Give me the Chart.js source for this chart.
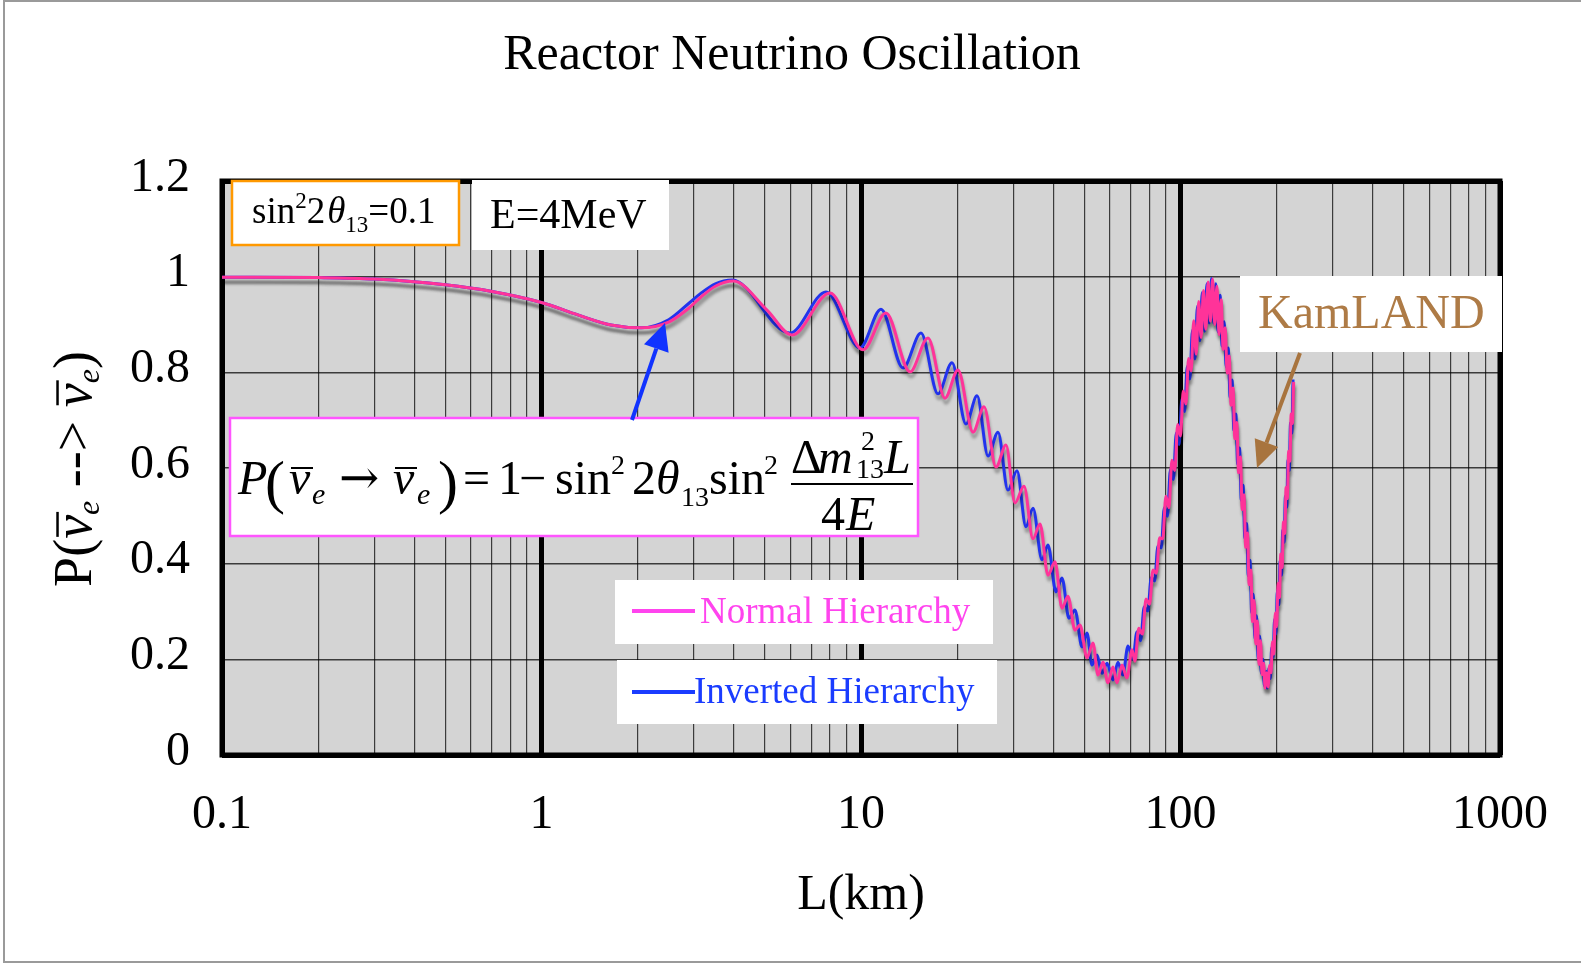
<!DOCTYPE html>
<html>
<head>
<meta charset="utf-8">
<title>Reactor Neutrino Oscillation</title>
<script src="https://cdn.jsdelivr.net/npm/chart.js@4.4.0/dist/chart.umd.min.js"></script>
<style>
  html, body { margin: 0; padding: 0; background: #fff; }
  canvas { display: block; }
</style>
</head>
<body>
<canvas id="oscChart" width="1581" height="963"></canvas>
<script>
const SERIF = "'Liberation Serif', 'Times New Roman', serif";

// baseline L (km) and survival probability, normal hierarchy
const normalL = [
    0.1, 0.2, 0.3, 0.5, 0.7, 1.0, 1.3, 1.65, 2.05, 2.5, 2.9, 3.15, 3.5, 3.98,
    5.08, 6.08, 8.0, 10.15, 11.97, 14.24, 16.21, 18.32, 20.12, 22.42, 24.27,
    26.46, 28.43, 30.34, 32.37, 34.54, 36.33, 38.48, 40.47, 42.57, 44.45, 46.75,
    48.46, 50.98, 53.22, 55.17, 57.19, 59.29, 61.47, 63.27, 65.6, 68.0, 70.51,
    72, 74, 76, 78, 80, 82, 84, 86, 88, 90, 92, 94, 96, 98, 100, 102, 104, 106,
    108, 110, 112, 114, 116, 118, 120, 122, 124, 126, 128, 130, 132, 134, 136,
    138, 140, 142, 144, 146, 148, 150, 152, 154, 156, 158, 160, 162, 164, 166,
    168, 170, 172, 174, 176, 178, 180, 182, 184, 186, 188, 190, 192, 194, 196,
    198, 200, 202, 204, 206, 208, 210, 212, 214, 216, 218, 220, 222, 224, 226
];
const normalP = [
    0.999, 0.998, 0.995, 0.983, 0.969, 0.946, 0.920, 0.899, 0.893, 0.905, 0.935, 0.957, 0.980, 0.991,
    0.930, 0.878, 0.966, 0.847, 0.924, 0.801, 0.872, 0.746, 0.805, 0.675, 0.728,
    0.602, 0.648, 0.527, 0.562, 0.452, 0.483, 0.376, 0.404, 0.307, 0.332, 0.261,
    0.272, 0.203, 0.234, 0.167, 0.194, 0.151, 0.184, 0.151, 0.188, 0.161, 0.220,
    0.196, 0.265, 0.253, 0.326, 0.315, 0.387, 0.380, 0.454, 0.452, 0.541, 0.517, 0.616, 0.595, 0.691, 0.667, 0.761, 0.734, 0.829,
    0.803, 0.908, 0.838, 0.948, 0.873, 0.971, 0.890, 0.989, 0.907, 0.995, 0.900, 0.980, 0.879, 0.952, 0.848,
    0.893, 0.798, 0.834, 0.731, 0.767, 0.661, 0.695, 0.590, 0.623, 0.513, 0.544, 0.434, 0.464, 0.356, 0.387,
    0.279, 0.323, 0.232, 0.280, 0.189, 0.239, 0.168, 0.192, 0.140, 0.172, 0.142, 0.187, 0.172, 0.237, 0.211,
    0.297, 0.268, 0.359, 0.329, 0.420, 0.392, 0.487, 0.463, 0.559, 0.536, 0.635, 0.614, 0.713, 0.693, 0.780
];

// baseline L (km) and survival probability, inverted hierarchy
const invertedL = [
    0.1, 0.2, 0.3, 0.5, 0.7, 1.0, 1.3, 1.65, 2.05, 2.5, 2.9, 3.15, 3.5, 3.95,
    5.99, 7.77, 9.93, 11.55, 13.54, 15.41, 17.42, 19.27, 21.31, 23.08, 24.98,
    26.84, 28.84, 30.78, 32.84, 34.54, 36.86, 38.48, 40.76, 42.57, 44.77, 46.75,
    49.18, 50.98, 52.84, 54.8, 56.79, 58.88, 61.5, 63.7, 66.0, 68.5,
    71, 73, 75, 77, 79, 81, 83, 85, 87, 89, 91, 93, 95, 97, 99, 101, 103, 105,
    107, 109, 111, 113, 115, 117, 119, 121, 123, 125, 127, 129, 131, 133, 135,
    137, 139, 141, 143, 145, 147, 149, 151, 153, 155, 157, 159, 161, 163, 165,
    167, 169, 171, 173, 175, 177, 179, 181, 183, 185, 187, 189, 191, 193, 195,
    197, 199, 201, 203, 205, 207, 209, 211, 213, 215, 217, 219, 221, 223, 225
];
const invertedP = [
    0.999, 0.998, 0.995, 0.983, 0.969, 0.946, 0.920, 0.899, 0.893, 0.910, 0.945, 0.965, 0.985, 0.993,
    0.882, 0.968, 0.851, 0.932, 0.809, 0.882, 0.755, 0.820, 0.692, 0.751, 0.625,
    0.675, 0.554, 0.594, 0.477, 0.516, 0.408, 0.439, 0.341, 0.370, 0.286, 0.303,
    0.226, 0.255, 0.188, 0.209, 0.171, 0.192, 0.157, 0.194, 0.167, 0.228,
    0.200, 0.257, 0.239, 0.310, 0.301, 0.371, 0.364, 0.437, 0.433, 0.517, 0.499, 0.597, 0.576, 0.673, 0.649, 0.744, 0.718, 0.812,
    0.786, 0.888, 0.828, 0.938, 0.866, 0.967, 0.886, 0.985, 0.903, 0.996, 0.903, 0.985, 0.885, 0.961, 0.855,
    0.906, 0.811, 0.851, 0.748, 0.784, 0.679, 0.713, 0.608, 0.642, 0.533, 0.564, 0.454, 0.484, 0.375, 0.407,
    0.298, 0.336, 0.243, 0.291, 0.200, 0.249, 0.171, 0.200, 0.145, 0.175, 0.140, 0.181, 0.160, 0.225, 0.204,
    0.284, 0.253, 0.344, 0.314, 0.405, 0.376, 0.470, 0.445, 0.541, 0.518, 0.616, 0.595, 0.694, 0.673, 0.785
];

// axis ticks
const xTickValues = [
    0.1, 0.2, 0.3, 0.4, 0.5, 0.6, 0.7, 0.8, 0.9,
    1, 2, 3, 4, 5, 6, 7, 8, 9,
    10, 20, 30, 40, 50, 60, 70, 80, 90,
    100, 200, 300, 400, 500, 600, 700, 800, 900,
    1000
];
const xDecades = [0.1, 1, 10, 100, 1000];
const xDecadeLabels = ['0.1', '1', '10', '100', '1000'];
const yTickValues = [0, 0.2, 0.4, 0.6, 0.8, 1, 1.2];
const yTickLabels = ['0', '0.2', '0.4', '0.6', '0.8', '1', '1.2'];

const toPoints = (xs, ys) => xs.map((x, i) => ({ x: x, y: ys[i] }));

function font(size, italic, family) {
    return (italic ? 'italic ' : '') + size + 'px ' + (family || SERIF);
}

// draws a run of text pieces left to right, returns the end x
function flowText(ctx, x, y, parts) {
    parts.forEach(p => {
        ctx.font = font(p.size, p.italic);
        const w = ctx.measureText(p.text).width;
        ctx.fillText(p.text, x + (p.dx || 0), y + (p.dy || 0));
        if (p.bar) {
            ctx.save();
            ctx.lineWidth = 2.5;
            ctx.strokeStyle = ctx.fillStyle;
            ctx.beginPath();
            ctx.moveTo(x + 2, y - p.size * 0.62);
            ctx.lineTo(x + w + 3, y - p.size * 0.62);
            ctx.stroke();
            ctx.restore();
        }
        x += w + (p.dx || 0) + (p.gap || 0);
    });
    return x;
}

function measureFlow(ctx, parts) {
    let w = 0;
    parts.forEach(p => {
        ctx.font = font(p.size, p.italic);
        w += ctx.measureText(p.text).width + (p.dx || 0) + (p.gap || 0);
    });
    return w;
}

function arrow(ctx, x1, y1, x2, y2, color, width, headLen, headW) {
    const ang = Math.atan2(y2 - y1, x2 - x1);
    const bx = x2 - headLen * Math.cos(ang);
    const by = y2 - headLen * Math.sin(ang);
    const px = Math.sin(ang) * headW / 2;
    const py = -Math.cos(ang) * headW / 2;
    ctx.save();
    ctx.strokeStyle = color;
    ctx.fillStyle = color;
    ctx.lineWidth = width;
    ctx.beginPath();
    ctx.moveTo(x1, y1);
    ctx.lineTo(bx, by);
    ctx.stroke();
    ctx.beginPath();
    ctx.moveTo(x2, y2);
    ctx.lineTo(bx + px, by + py);
    ctx.lineTo(bx - px, by - py);
    ctx.closePath();
    ctx.fill();
    ctx.restore();
}

function textBox(ctx, x, y, w, h, stroke) {
    ctx.fillStyle = '#fff';
    ctx.fillRect(x, y, w, h);
    if (stroke) {
        ctx.lineWidth = 2.5;
        ctx.strokeStyle = stroke;
        ctx.strokeRect(x, y, w, h);
    }
}

// white page, thin outer border and grey plot area
const plotBackground = {
    id: 'plotBackground',
    beforeDraw(chart) {
        const { ctx, chartArea: a, width, height } = chart;
        ctx.save();
        ctx.fillStyle = '#fff';
        ctx.fillRect(0, 0, width, height);
        ctx.strokeStyle = '#9a9a9a';
        ctx.lineWidth = 2;
        ctx.beginPath();
        ctx.moveTo(width, 1);
        ctx.lineTo(4, 1);
        ctx.lineTo(4, height - 1);
        ctx.lineTo(width, height - 1);
        ctx.stroke();
        ctx.fillStyle = '#d4d4d4';
        ctx.fillRect(a.left, a.top, a.right - a.left, a.bottom - a.top);
        ctx.restore();
    },
    beforeDatasetsDraw(chart) {
        const { ctx, chartArea: a } = chart;
        ctx.save();
        ctx.strokeStyle = '#000';
        ctx.lineWidth = 5;
        ctx.strokeRect(a.left, a.top, a.right - a.left, a.bottom - a.top);
        ctx.restore();
    }
};

// grey drop shadow under each curve
const curveShadow = {
    id: 'curveShadow',
    beforeDatasetDraw(chart) {
        const ctx = chart.ctx;
        ctx.save();
        ctx.shadowColor = 'rgba(0, 0, 0, 0.3)';
        ctx.shadowOffsetX = 1;
        ctx.shadowOffsetY = 5;
        ctx.shadowBlur = 3;
    },
    afterDatasetDraw(chart) {
        chart.ctx.restore();
    }
};

// title, labels, formula, arrows and legend drawn over the plot
const annotations = {
    id: 'annotations',
    afterDraw(chart) {
        const ctx = chart.ctx;
        ctx.save();

        ctx.fillStyle = '#000';
        ctx.textAlign = 'center';
        ctx.textBaseline = 'middle';
        ctx.font = font(50);
        ctx.fillText('Reactor Neutrino Oscillation', 792, 56);

        ctx.textBaseline = 'alphabetic';
        ctx.textAlign = 'left';

        // sin^2 2theta13 box
        textBox(ctx, 232, 181, 227, 64, '#ff9900');
        ctx.fillStyle = '#000';
        flowText(ctx, 252, 223, [
            { text: 'sin', size: 37 },
            { text: '2', size: 23, dy: -15 },
            { text: '2', size: 37, gap: 2 },
            { text: 'θ', size: 37, italic: true },
            { text: '13', size: 23, dy: 9 },
            { text: '=0.1', size: 37 }
        ]);

        // energy box
        textBox(ctx, 472, 180, 197, 70);
        ctx.fillStyle = '#000';
        ctx.font = font(42);
        ctx.fillText('E=4MeV', 490, 228);

        // KamLAND label and arrow
        textBox(ctx, 1240, 276, 262, 76);
        ctx.fillStyle = '#ae7b46';
        ctx.font = font(48);
        ctx.fillText('KamLAND', 1258, 328);
        arrow(ctx, 1300, 353, 1257, 468, '#a8743e', 4, 27, 25);

        // survival probability formula
        textBox(ctx, 230, 418, 688, 118, '#ff55ff');
        ctx.fillStyle = '#000';
        const base = 494;
        const pieces = [
            ['P', 238, base, 48, true],
            ['(', 265, base + 8, 60, false],
            ['ν', 289, base, 48, true],
            ['e', 312, base + 10, 30, true],
            ['→', 339, base, 48, false, "'DejaVu Serif', serif"],
            ['ν', 393, base, 48, true],
            ['e', 417, base + 10, 30, true],
            [')', 438, base + 8, 60, false],
            ['=', 463, base, 48, false],
            ['1', 498, base, 48, false],
            ['−', 519, base, 48, false],
            ['sin', 555, base, 48, false],
            ['2', 611, base - 20, 28, false],
            ['2', 632, base, 48, false],
            ['θ', 656, base, 48, true],
            ['13', 681, base + 12, 28, false],
            ['sin', 709, base, 48, false],
            ['2', 764, base - 20, 28, false],
            ['Δ', 791, base - 21, 48, false],
            ['m', 818, base - 21, 48, true],
            ['2', 861, base - 44, 28, false],
            ['13', 856, base - 16, 28, false],
            ['L', 884, base - 21, 48, true],
            ['4', 821, base + 36, 48, false],
            ['E', 846, base + 36, 48, true]
        ];
        pieces.forEach(([t, x, y, s, it, fam]) => {
            ctx.font = font(s, it, fam);
            ctx.fillText(t, x, y);
        });
        ctx.strokeStyle = '#000';
        ctx.lineWidth = 2;
        ctx.beginPath();
        [[291, 313], [395, 417]].forEach(([x1, x2]) => {
            ctx.moveTo(x1, 468);
            ctx.lineTo(x2, 468);
        });
        ctx.moveTo(791, 484);
        ctx.lineTo(913, 484);
        ctx.stroke();

        arrow(ctx, 632, 420, 665, 323, '#1133ff', 4, 27, 26);

        // legend
        const legend = [
            { box: [615, 580, 378, 64], y: 611, color: '#ff44ee', text: 'Normal Hierarchy', tx: 700, ty: 623 },
            { box: [617, 660, 380, 64], y: 692, color: '#1a3cff', text: 'Inverted Hierarchy', tx: 694, ty: 703 }
        ];
        legend.forEach(item => {
            textBox(ctx, ...item.box);
            ctx.strokeStyle = item.color;
            ctx.lineWidth = 4;
            ctx.beginPath();
            ctx.moveTo(632, item.y);
            ctx.lineTo(695, item.y);
            ctx.stroke();
            ctx.fillStyle = item.color;
            ctx.font = font(37);
            ctx.fillText(item.text, item.tx, item.ty);
        });

        // rotated y axis title
        const yTitle = [
            { text: 'P(', size: 54 },
            { text: 'ν', size: 54, italic: true, bar: true },
            { text: 'e', size: 32, italic: true, dy: 8 },
            { text: ' --> ', size: 54 },
            { text: 'ν', size: 54, italic: true, bar: true },
            { text: 'e', size: 32, italic: true, dy: 8 },
            { text: ')', size: 54 }
        ];
        ctx.translate(91, 469);
        ctx.rotate(-Math.PI / 2);
        ctx.fillStyle = '#000';
        flowText(ctx, -measureFlow(ctx, yTitle) / 2, 0, yTitle);
        ctx.restore();
    }
};

const ctx = document.getElementById('oscChart').getContext('2d');
const oscChart = new Chart(ctx, {
    type: 'line',
    data: {
        datasets: [{
            label: 'Normal Hierarchy',
            data: toPoints(normalL, normalP),
            borderColor: '#ff3399',
            borderWidth: 3,
            pointRadius: 0,
            cubicInterpolationMode: 'monotone',
            fill: false
        }, {
            label: 'Inverted Hierarchy',
            data: toPoints(invertedL, invertedP),
            borderColor: '#2233ee',
            borderWidth: 3,
            pointRadius: 0,
            cubicInterpolationMode: 'monotone',
            fill: false
        }]
    },
    options: {
        responsive: false,
        animation: false,
        layout: {
            padding: { left: 0, right: 81, top: 181, bottom: 0 }
        },
        plugins: {
            legend: { display: false },
            tooltip: { enabled: false },
            title: { display: false }
        },
        scales: {
            x: {
                type: 'logarithmic',
                min: 0.1,
                max: 1000,
                afterBuildTicks: scale => {
                    scale.ticks = xTickValues.map(v => ({ value: v }));
                },
                afterFit: scale => { scale.height = 208; },
                border: { display: false },
                grid: {
                    drawTicks: false,
                    color: ctx => xDecades.includes(ctx.tick.value) ? '#000' : 'rgba(0, 0, 0, 0.72)',
                    lineWidth: ctx => xDecades.includes(ctx.tick.value) ? 5 : 1.2
                },
                ticks: {
                    autoSkip: false,
                    maxRotation: 0,
                    padding: 32,
                    color: '#000',
                    font: { family: SERIF, size: 48 },
                    callback: value => {
                        const i = xDecades.indexOf(value);
                        return i >= 0 ? xDecadeLabels[i] : '';
                    }
                },
                title: {
                    display: true,
                    text: 'L(km)',
                    color: '#000',
                    font: { family: SERIF, size: 50 },
                    padding: { top: 0, bottom: 37 }
                }
            },
            y: {
                min: 0,
                max: 1.2,
                afterBuildTicks: scale => {
                    scale.ticks = yTickValues.map(v => ({ value: v }));
                },
                afterFit: scale => { scale.width = 222; },
                border: { display: false },
                grid: {
                    drawTicks: false,
                    color: ctx => (ctx.tick.value === 0 || ctx.tick.value === 1.2) ? '#000' : 'rgba(0, 0, 0, 0.72)',
                    lineWidth: ctx => (ctx.tick.value === 0 || ctx.tick.value === 1.2) ? 5 : 1.4
                },
                ticks: {
                    padding: 32,
                    labelOffset: -3,
                    color: '#000',
                    font: { family: SERIF, size: 48 },
                    callback: (value, index) => yTickLabels[index]
                }
            }
        }
    },
    plugins: [plotBackground, curveShadow, annotations]
});
</script>
</body>
</html>
